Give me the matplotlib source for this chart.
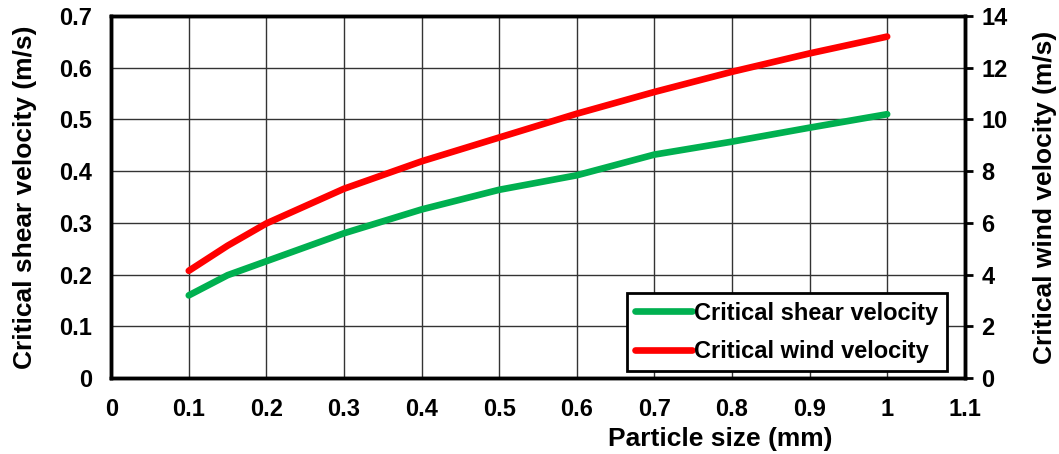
import matplotlib.pyplot as plt

plt.rcParams['font.family'] = ['Liberation Sans', 'DejaVu Sans']
plt.rcParams['font.weight'] = 'bold'

particle_size = [0.1, 0.15, 0.2, 0.3, 0.4, 0.5, 0.6, 0.7, 0.8, 0.9, 1.0]
shear_velocity = [0.16, 0.199, 0.226, 0.280, 0.326, 0.364, 0.392, 0.432, 0.457, 0.484, 0.510]
wind_velocity = [4.15, 5.12, 5.98, 7.32, 8.38, 9.3, 10.22, 11.06, 11.84, 12.55, 13.2]

green = '#00B050'
red = '#FF0000'

fig = plt.figure(figsize=(10.59, 4.54), dpi=100)
ax = fig.add_axes([0.105, 0.167, 0.806, 0.798])
ax2 = ax.twinx()

l1, = ax.plot(particle_size, shear_velocity, color=green, lw=4.8,
              solid_capstyle='round', label='Critical shear velocity')
l2, = ax2.plot(particle_size, wind_velocity, color=red, lw=4.8,
               solid_capstyle='round', label='Critical wind velocity')

ax.set_xlim(0, 1.1)
ax.set_ylim(0, 0.7)
ax2.set_ylim(0, 14)
ax.set_xticks([i / 10 for i in range(12)])
ax.set_xticklabels(['0', '0.1', '0.2', '0.3', '0.4', '0.5', '0.6', '0.7',
                    '0.8', '0.9', '1', '1.1'])
ax.set_yticks([i / 10 for i in range(8)])
ax.set_yticklabels(['0', '0.1', '0.2', '0.3', '0.4', '0.5', '0.6', '0.7'])
ax2.set_yticks(range(0, 15, 2))

ax.grid(True, color='#333333', lw=1)
ax.set_axisbelow(True)

for a in (ax, ax2):
    for s in a.spines.values():
        s.set_linewidth(2.5)
    a.tick_params(labelsize=17, width=2, length=6)
ax.tick_params(axis='y', length=0, pad=14)
ax.tick_params(axis='x', length=0, pad=14)
ax2.tick_params(axis='y', pad=6)

ax.set_xlabel('Particle size (mm)', fontsize=19, fontweight='bold')
ax.xaxis.set_label_coords(0.713, -0.135)
ax.xaxis.label.set_va('top')
ax.set_ylabel('Critical shear velocity (m/s)', fontsize=19, fontweight='bold', labelpad=16)
ax2.set_ylabel('Critical wind velocity (m/s)', fontsize=19, fontweight='bold', labelpad=18)

leg = ax2.legend(handles=[l1, l2], loc='lower right', bbox_to_anchor=(0.979, 0.019),
                 borderaxespad=0, fancybox=False, framealpha=1, edgecolor='black',
                 handlelength=2.4, handletextpad=0.1, borderpad=0.35,
                 labelspacing=0.65, prop={'weight': 'bold', 'size': 17})
leg.get_frame().set_linewidth(2)

fig.savefig('out.png', dpi=100)
